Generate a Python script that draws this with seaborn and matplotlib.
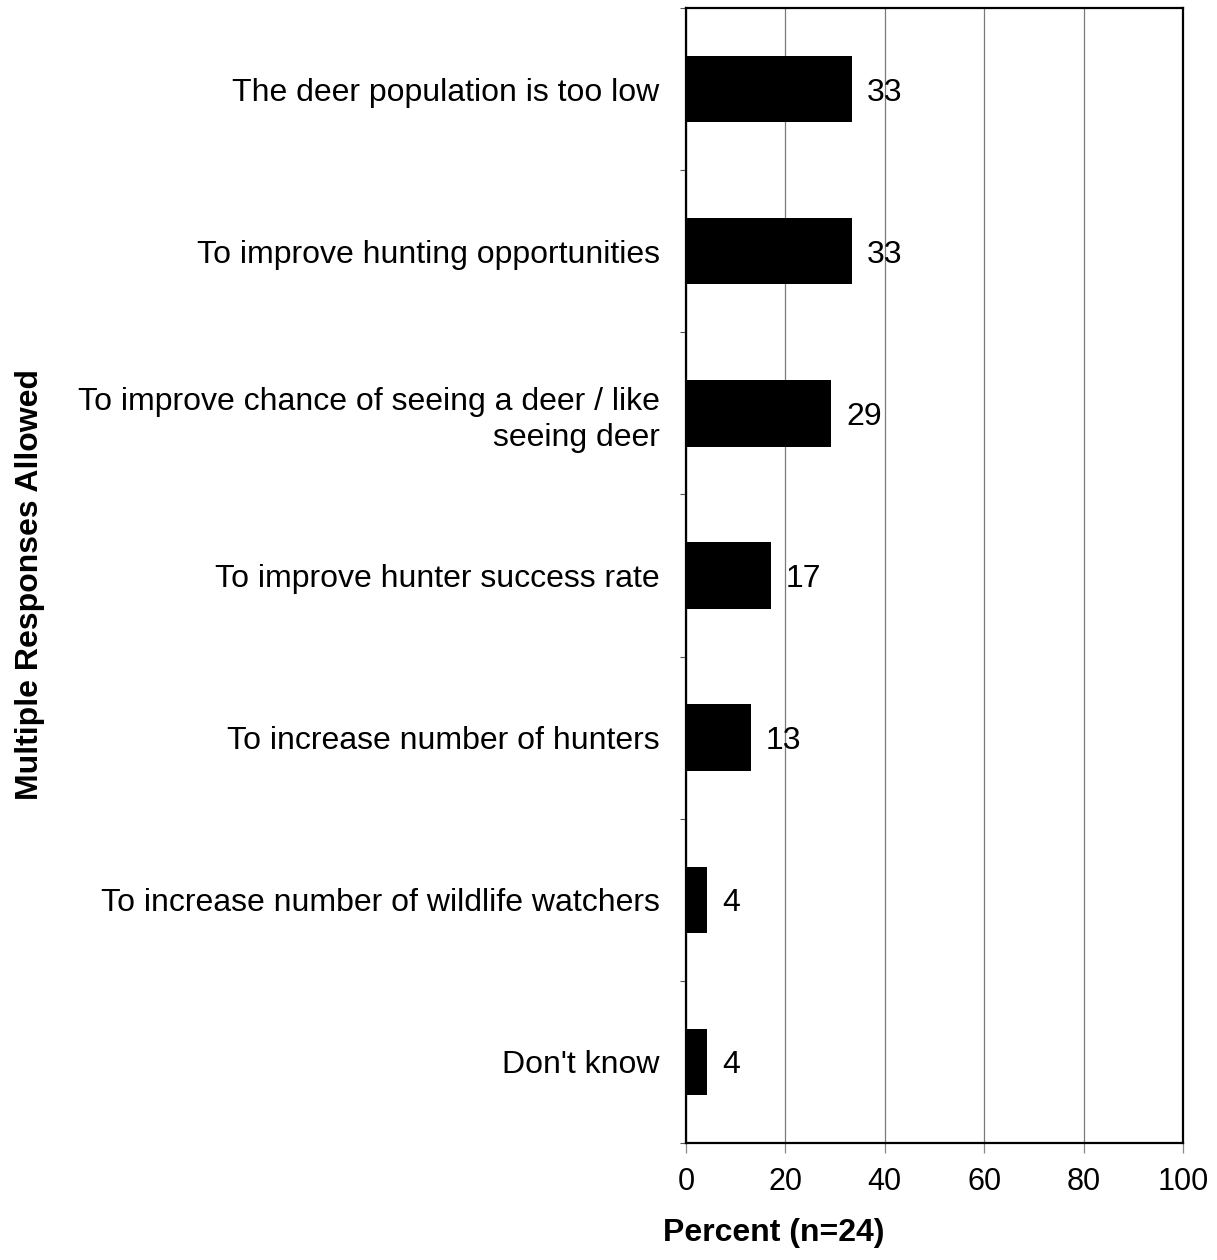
import matplotlib
matplotlib.use("Agg")
import matplotlib.pyplot as plt
import seaborn as sns
import pandas as pd
from matplotlib.ticker import FixedLocator

categories = [
    "The deer population is too low",
    "To improve hunting opportunities",
    "To improve chance of seeing a deer / like\nseeing deer",
    "To improve hunter success rate",
    "To increase number of hunters",
    "To increase number of wildlife watchers",
    "Don't know",
]
values = [33.3, 33.3, 29.2, 17.1, 13.1, 4.3, 4.3]
value_labels = ["33", "33", "29", "17", "13", "4", "4"]
x_ticks = [0, 20, 40, 60, 80, 100]

sns.set_style("white")
plt.rcParams["font.family"] = ["Liberation Sans", "DejaVu Sans"]
plt.rcParams["text.color"] = "black"
plt.rcParams["axes.labelcolor"] = "black"
plt.rcParams["xtick.color"] = "black"
plt.rcParams["ytick.color"] = "black"

df = pd.DataFrame({"reason": categories, "pct": values})

fig = plt.figure(figsize=(12.17, 12.6), dpi=100)
ax = fig.add_axes([686 / 1217, 117 / 1260, (1183 - 686) / 1217, (1143 - 8) / 1260])

sns.barplot(data=df, y="reason", x="pct", orient="h", color="black",
            width=0.41, saturation=1, ax=ax, edgecolor="black", linewidth=0)

ax.set_xlim(0, 100)
ax.set_ylim(len(categories) - 0.5, -0.5)
ax.set_xticks(x_ticks)
ax.set_xticklabels([str(t) for t in x_ticks])
ax.xaxis.grid(True, color="#7a7a7a", linewidth=0.9)
ax.set_axisbelow(True)

for sp in ax.spines.values():
    sp.set_visible(True)
    sp.set_color("black")
    sp.set_linewidth(1.6)

for lab in ax.get_yticklabels():
    lab.set_linespacing(1.28)

ax.tick_params(axis="y", which="major", left=False, length=0, pad=19,
               labelsize=23, labelcolor="black")
ax.yaxis.set_minor_locator(FixedLocator([i - 0.5 for i in range(len(categories) + 1)]))
ax.tick_params(axis="y", which="minor", left=True, length=4, width=0.8,
               color="#555555", direction="out")
ax.tick_params(axis="x", which="major", bottom=True, length=7, width=0.9,
               color="#888888", direction="out", pad=10, labelsize=22,
               labelcolor="black")

for i, (v, lab) in enumerate(zip(values, value_labels)):
    ax.annotate(lab, xy=(v, i), xytext=(15, 0), textcoords="offset pixels",
                ha="left", va="center_baseline", fontsize=23, color="black")

ax.set_xlabel("Percent (n=24)", fontsize=23, fontweight="bold", color="black")
ax.xaxis.set_label_coords(0.177, -0.066)
ax.set_ylabel("Multiple Responses Allowed", fontsize=23, fontweight="bold", color="black")
ax.yaxis.set_label_coords(-1.29, 0.4916)

fig.savefig("out.png", dpi=100)
